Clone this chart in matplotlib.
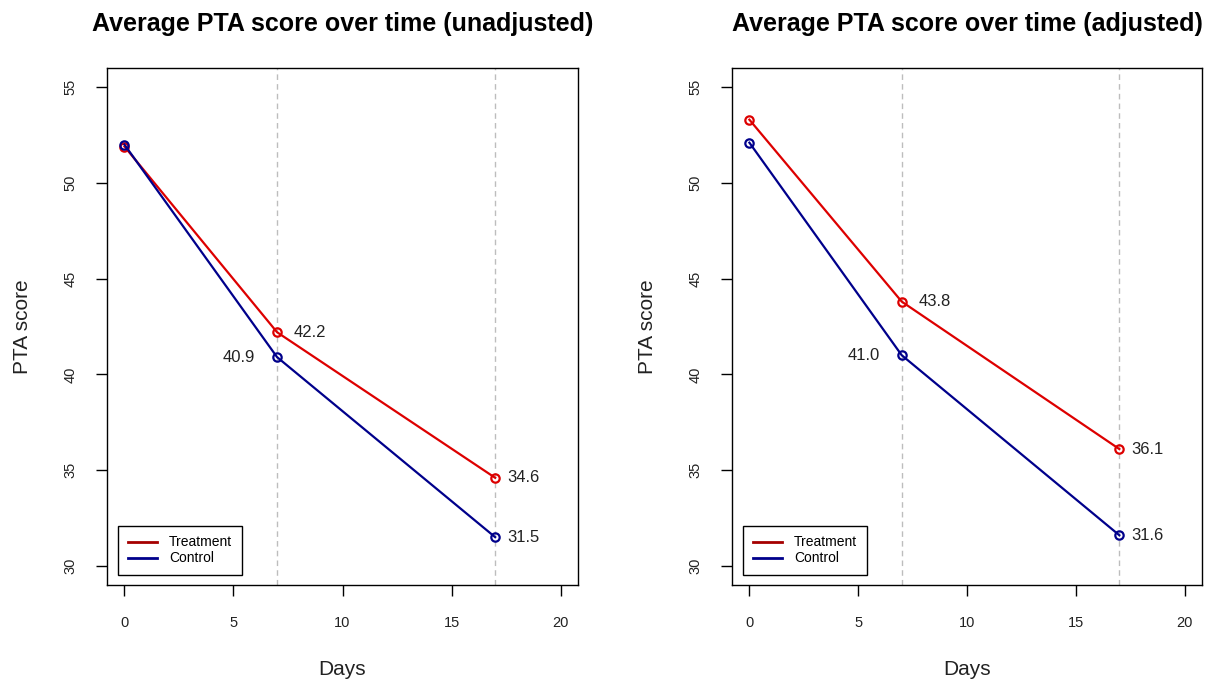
"""Average PTA score over time, unadjusted vs adjusted (base-R look)."""
import matplotlib.pyplot as plt

plt.rcParams["font.family"] = ["Liberation Sans", "DejaVu Sans"]

days = [0, 7, 17]
treat_unadj = [51.9, 42.2, 34.6]
ctrl_unadj = [52.0, 40.9, 31.5]
treat_adj = [53.3, 43.8, 36.1]
ctrl_adj = [52.1, 41.0, 31.6]
titles = ["Average PTA score over time (unadjusted)",
          "Average PTA score over time (adjusted)"]
x_ticks = [0, 5, 10, 15, 20]
y_ticks = [30, 35, 40, 45, 50, 55]

RED = "#dd0000"
BLUE = "#00008b"
LEG_RED = "#a50000"


def _label(ax, x, y, dx):
    ax.annotate(f"{y:.1f}", (x, y), xytext=(dx, 0), textcoords="offset points",
                ha="left" if dx > 0 else "right", va="center", fontsize=12,
                color="#222222")


def draw_panel(ax, treat, ctrl, title):
    for d in days[1:]:
        ax.axvline(d, color="#bdbdbd", lw=1, ls=(0, (4, 3)), zorder=0)
    ax.plot(days, treat, color=RED, lw=1.6, marker="o", ms=6, mfc="none", mew=1.6)
    ax.plot(days, ctrl, color=BLUE, lw=1.6, marker="o", ms=6, mfc="none", mew=1.6)
    # value labels at day 7 and day 17
    _label(ax, days[1], treat[1], 12)
    _label(ax, days[1], ctrl[1], -16)
    _label(ax, days[2], treat[2], 8.5)
    _label(ax, days[2], ctrl[2], 8.5)

    ax.set_xlim(-0.8, 20.8)
    ax.set_ylim(29, 56)
    ax.set_xticks(x_ticks)
    ax.set_yticks(y_ticks)
    ax.tick_params(direction="out", length=8, labelsize=10.5, width=1,
                   labelcolor="#222222")
    ax.tick_params(axis="x", pad=14)
    ax.tick_params(axis="y", pad=13)
    for lab in ax.get_yticklabels():
        lab.set_rotation(90)
        lab.set_va("center")
    ax.set_title(title, fontsize=18, fontweight="bold", pad=27)
    ax.set_xlabel("Days", fontsize=15, color="#222222")
    ax.set_ylabel("PTA score", fontsize=15, color="#222222")
    ax.xaxis.label.set_va("center")
    ax.xaxis.set_label_coords(0.5, -0.164)
    ax.yaxis.label.set_va("center")
    ax.yaxis.set_label_coords(-0.18, 0.5)
    for s in ax.spines.values():
        s.set_linewidth(1)

    h1, = ax.plot([], [], color=LEG_RED, lw=2)
    h2, = ax.plot([], [], color=BLUE, lw=2)
    leg = ax.legend([h1, h2], ["Treatment", "Control"], loc="lower left",
                    bbox_to_anchor=(0.023, 0.019), borderaxespad=0, fontsize=10,
                    fancybox=False, framealpha=1, edgecolor="black",
                    handlelength=2.1, borderpad=0.7, labelspacing=0.15,
                    handletextpad=0.9)
    leg.get_frame().set_linewidth(1)


fig = plt.figure(figsize=(12.06, 6.81), dpi=100)
ax1 = fig.add_axes([107 / 1206, 1 - 585 / 681, 471 / 1206, 517 / 681])
ax2 = fig.add_axes([732 / 1206, 1 - 585 / 681, 470 / 1206, 517 / 681])
draw_panel(ax1, treat_unadj, ctrl_unadj, titles[0])
draw_panel(ax2, treat_adj, ctrl_adj, titles[1])

fig.savefig("out.png", dpi=100)
